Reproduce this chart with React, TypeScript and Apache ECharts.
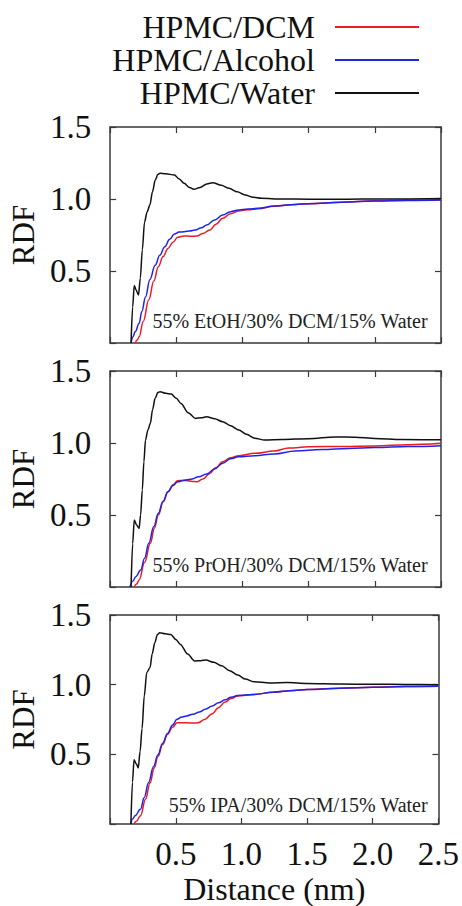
import React, { useEffect, useRef } from "react";
import * as echarts from "echarts";

// ---------- data ----------
const seriesNames = ["HPMC/DCM", "HPMC/Alcohol", "HPMC/Water"];
const panelLabels = [
  "55% EtOH/30% DCM/15% Water",
  "55% PrOH/30% DCM/15% Water",
  "55% IPA/30% DCM/15% Water",
];
const xTickValues = [0, 0.5, 1.0, 1.5, 2.0, 2.5];
const yTickValues = [0, 0.5, 1.0, 1.5];

// Panel 1: EtOH
const etohDCM = [[0.19,0],[0.205,0.02],[0.219,0.044],[0.25,0.15],[0.292,0.30],[0.33,0.43],[0.364,0.53],[0.40,0.60],[0.437,0.657],[0.475,0.70],[0.51,0.734],[0.545,0.742],[0.583,0.743],[0.62,0.741],[0.656,0.743],[0.70,0.76],[0.753,0.785],[0.80,0.825],[0.85,0.866],[0.91,0.898],[0.972,0.917],[1.04,0.925],[1.118,0.932],[1.239,0.95],[1.4,0.962],[1.5,0.967],[1.75,0.978],[2.0,0.987],[2.25,0.991],[2.5,0.995]];
const etohAlcohol = [[0.158,0],[0.17,0.04],[0.19,0.079],[0.219,0.137],[0.24,0.22],[0.267,0.32],[0.30,0.44],[0.34,0.54],[0.375,0.61],[0.413,0.669],[0.45,0.72],[0.486,0.757],[0.52,0.77],[0.559,0.773],[0.60,0.778],[0.644,0.785],[0.69,0.80],[0.729,0.819],[0.79,0.855],[0.85,0.889],[0.91,0.912],[0.972,0.924],[1.04,0.93],[1.118,0.935],[1.239,0.951],[1.4,0.962],[1.5,0.967],[1.75,0.978],[2.0,0.986],[2.25,0.99],[2.5,0.993]];
const etohWater = [[0.158,0],[0.17,0.25],[0.182,0.40],[0.195,0.37],[0.214,0.333],[0.228,0.45],[0.243,0.646],[0.26,0.84],[0.279,0.91],[0.30,0.958],[0.32,1.05],[0.34,1.13],[0.36,1.17],[0.377,1.178],[0.42,1.175],[0.486,1.167],[0.52,1.14],[0.559,1.109],[0.6,1.08],[0.632,1.067],[0.68,1.08],[0.73,1.105],[0.777,1.113],[0.84,1.095],[0.899,1.074],[0.96,1.05],[1.02,1.028],[1.08,1.012],[1.142,1.005],[1.3,1.0],[1.5,0.999],[1.8,0.999],[2.0,1.0],[2.2,1.0],[2.5,1.003]];

// Panel 2: PrOH
const prohDCM = [[0.182,0],[0.2,0.02],[0.219,0.049],[0.26,0.17],[0.304,0.303],[0.335,0.41],[0.364,0.5],[0.40,0.59],[0.437,0.662],[0.475,0.71],[0.51,0.738],[0.545,0.74],[0.583,0.738],[0.62,0.733],[0.656,0.731],[0.70,0.75],[0.753,0.789],[0.80,0.83],[0.85,0.87],[0.91,0.897],[0.972,0.912],[1.093,0.928],[1.239,0.944],[1.35,0.965],[1.5,0.974],[1.75,0.976],[2.0,0.98],[2.25,0.988],[2.5,0.998]];
const prohAlcohol = [[0.15,0],[0.17,0.04],[0.194,0.072],[0.231,0.118],[0.26,0.2],[0.292,0.303],[0.33,0.42],[0.364,0.512],[0.40,0.595],[0.437,0.662],[0.475,0.705],[0.51,0.731],[0.56,0.742],[0.607,0.748],[0.67,0.765],[0.729,0.785],[0.79,0.82],[0.85,0.859],[0.91,0.89],[0.972,0.905],[1.093,0.912],[1.239,0.924],[1.4,0.945],[1.6,0.955],[1.8,0.962],[2.0,0.968],[2.25,0.975],[2.5,0.981]];
const prohWater = [[0.158,0],[0.17,0.3],[0.182,0.465],[0.2,0.43],[0.219,0.407],[0.23,0.5],[0.243,0.674],[0.255,0.87],[0.267,1.02],[0.285,1.09],[0.304,1.137],[0.32,1.23],[0.34,1.31],[0.36,1.35],[0.377,1.356],[0.42,1.345],[0.462,1.34],[0.5,1.31],[0.535,1.275],[0.59,1.21],[0.644,1.171],[0.69,1.175],[0.729,1.183],[0.79,1.168],[0.85,1.148],[0.91,1.12],[0.972,1.09],[1.03,1.06],[1.093,1.033],[1.166,1.021],[1.3,1.024],[1.5,1.03],[1.7,1.042],[1.85,1.04],[2.0,1.032],[2.2,1.025],[2.5,1.022]];

// Panel 3: IPA
const ipaDCM = [[0.182,0],[0.2,0.02],[0.231,0.059],[0.27,0.18],[0.304,0.296],[0.335,0.4],[0.364,0.485],[0.40,0.57],[0.437,0.643],[0.475,0.695],[0.51,0.726],[0.545,0.727],[0.583,0.726],[0.63,0.725],[0.67,0.726],[0.72,0.75],[0.778,0.792],[0.825,0.835],[0.875,0.875],[0.92,0.9],[0.972,0.918],[1.093,0.929],[1.239,0.946],[1.4,0.958],[1.5,0.965],[1.75,0.975],[2.0,0.982],[2.25,0.987],[2.5,0.99]];
const ipaAlcohol = [[0.158,0],[0.17,0.035],[0.19,0.059],[0.231,0.106],[0.26,0.19],[0.292,0.296],[0.33,0.41],[0.364,0.497],[0.40,0.58],[0.437,0.65],[0.475,0.71],[0.51,0.752],[0.545,0.768],[0.583,0.776],[0.63,0.788],[0.681,0.804],[0.73,0.826],[0.778,0.847],[0.825,0.87],[0.875,0.891],[0.92,0.91],[0.972,0.922],[1.093,0.929],[1.239,0.946],[1.4,0.958],[1.5,0.965],[1.75,0.974],[2.0,0.981],[2.25,0.986],[2.5,0.989]];
const ipaWater = [[0.158,0],[0.17,0.3],[0.182,0.461],[0.2,0.43],[0.214,0.402],[0.228,0.52],[0.243,0.686],[0.26,0.92],[0.279,1.088],[0.304,1.123],[0.32,1.22],[0.34,1.30],[0.36,1.36],[0.377,1.372],[0.42,1.365],[0.462,1.36],[0.5,1.325],[0.535,1.289],[0.59,1.22],[0.644,1.17],[0.69,1.172],[0.729,1.177],[0.79,1.16],[0.85,1.135],[0.91,1.1],[0.972,1.069],[1.03,1.04],[1.093,1.021],[1.215,1.012],[1.35,1.015],[1.5,1.008],[1.75,1.004],[2.0,1.003],[2.25,1.002],[2.5,1.0]];

const panelData = [
  [etohDCM, etohAlcohol, etohWater],
  [prohDCM, prohAlcohol, prohWater],
  [ipaDCM, ipaAlcohol, ipaWater],
];

// ---------- style / layout ----------
const W = 462;
const H = 906;
const SERIF = "'Liberation Serif', 'Times New Roman', serif";
const colors = ["#ec1c24", "#2222e8", "#111111"];
const smoothness = [0.4, 0.4, 0.3];
const gridTops = [127, 371, 615];
const gridHeights = [216, 216, 212];
const gridLeft = 98;
const gridWidth = 343;
const frameColor = "#3a3a3a";

export default function App() {
  const ref = useRef<HTMLDivElement>(null);

  useEffect(() => {
    if (!ref.current) return;
    const chart = echarts.init(ref.current, null, { renderer: "svg", width: W, height: H });

    const xMin = xTickValues[0];
    const xMax = xTickValues[xTickValues.length - 1];
    const yMin = yTickValues[0];
    const yMax = yTickValues[yTickValues.length - 1];

    const grid: any[] = [];
    const xAxis: any[] = [];
    const yAxis: any[] = [];
    const series: any[] = [];
    const graphic: any[] = [];

    panelData.forEach((curves, p) => {
      grid.push({ left: gridLeft, top: gridTops[p], width: gridWidth, height: gridHeights[p], containLabel: false });
      const isBottom = p === panelData.length - 1;
      const baseLine = { show: true, onZero: false, lineStyle: { color: frameColor, width: 1.5 } };
      const tick = { show: true, inside: true, length: 6, lineStyle: { color: frameColor, width: 1.2 } };
      xAxis.push({
        type: "value", gridIndex: p, position: "bottom",
        min: xMin, max: xMax, interval: 0.5,
        axisLine: baseLine, axisTick: tick, splitLine: { show: false },
        axisLabel: {
          show: isBottom, margin: 13, fontSize: 33, fontFamily: SERIF, color: "#111",
          formatter: (v: number) => (v === 0 ? "" : v.toFixed(1)),
        },
        name: isBottom ? "Distance (nm)" : "",
        nameLocation: "middle", nameGap: 49,
        nameTextStyle: { fontSize: 32, fontFamily: SERIF, color: "#111" },
      });
      xAxis.push({
        type: "value", gridIndex: p, position: "top",
        min: xMin, max: xMax, interval: 0.5,
        axisLine: baseLine, axisTick: tick, splitLine: { show: false },
        axisLabel: { show: false },
      });
      yAxis.push({
        type: "value", gridIndex: p, position: "left",
        min: yMin, max: yMax, interval: 0.5,
        axisLine: baseLine, axisTick: tick, splitLine: { show: false },
        axisLabel: {
          margin: 19, fontSize: 33, fontFamily: SERIF, color: "#111",
          formatter: (v: number) => (v === 0 ? "" : v.toFixed(1)),
        },
        name: "RDF", nameLocation: "middle", nameRotate: 90, nameGap: 64,
        nameTextStyle: { fontSize: 31, fontFamily: SERIF, color: "#111" },
      });
      yAxis.push({
        type: "value", gridIndex: p, position: "right",
        min: yMin, max: yMax, interval: 0.5,
        axisLine: baseLine, axisTick: tick, splitLine: { show: false },
        axisLabel: { show: false },
      });

      curves.forEach((data, s) => {
        series.push({
          type: "line",
          name: seriesNames[s],
          xAxisIndex: p * 2,
          yAxisIndex: p * 2,
          data,
          symbol: "none",
          smooth: smoothness[s],
          smoothMonotone: "x",
          clip: true,
          lineStyle: { color: colors[s], width: 1.5 },
          itemStyle: { color: colors[s] },
          z: 2 + s,
        });
      });

      graphic.push({
        type: "text",
        right: W - 428,
        top: gridTops[p] + gridHeights[p] - 21 - 11,
        style: {
          text: panelLabels[p],
          fontSize: 20,
          fontFamily: SERIF,
          fill: "#222",
        },
      });
    });

    chart.setOption({
      animation: false,
      backgroundColor: "#ffffff",
      grid,
      xAxis,
      yAxis,
      series,
      graphic,
      legend: {
        data: seriesNames,
        orient: "vertical",
        align: "right",
        right: W - 419,
        top: 11,
        padding: 0,
        icon: "rect",
        itemWidth: 84,
        itemHeight: 2,
        itemGap: 1,
        selectedMode: false,
        textStyle: {
          fontSize: 32,
          fontFamily: SERIF,
          color: "#111",
          lineHeight: 32,
          padding: [0, 15, 0, 0],
        },
      },
    });

    return () => {
      chart.dispose();
    };
  }, []);

  return (
    <div
      ref={ref}
      style={{ position: "absolute", left: 0, top: 0, width: W, height: H, background: "#fff" }}
    />
  );
}
